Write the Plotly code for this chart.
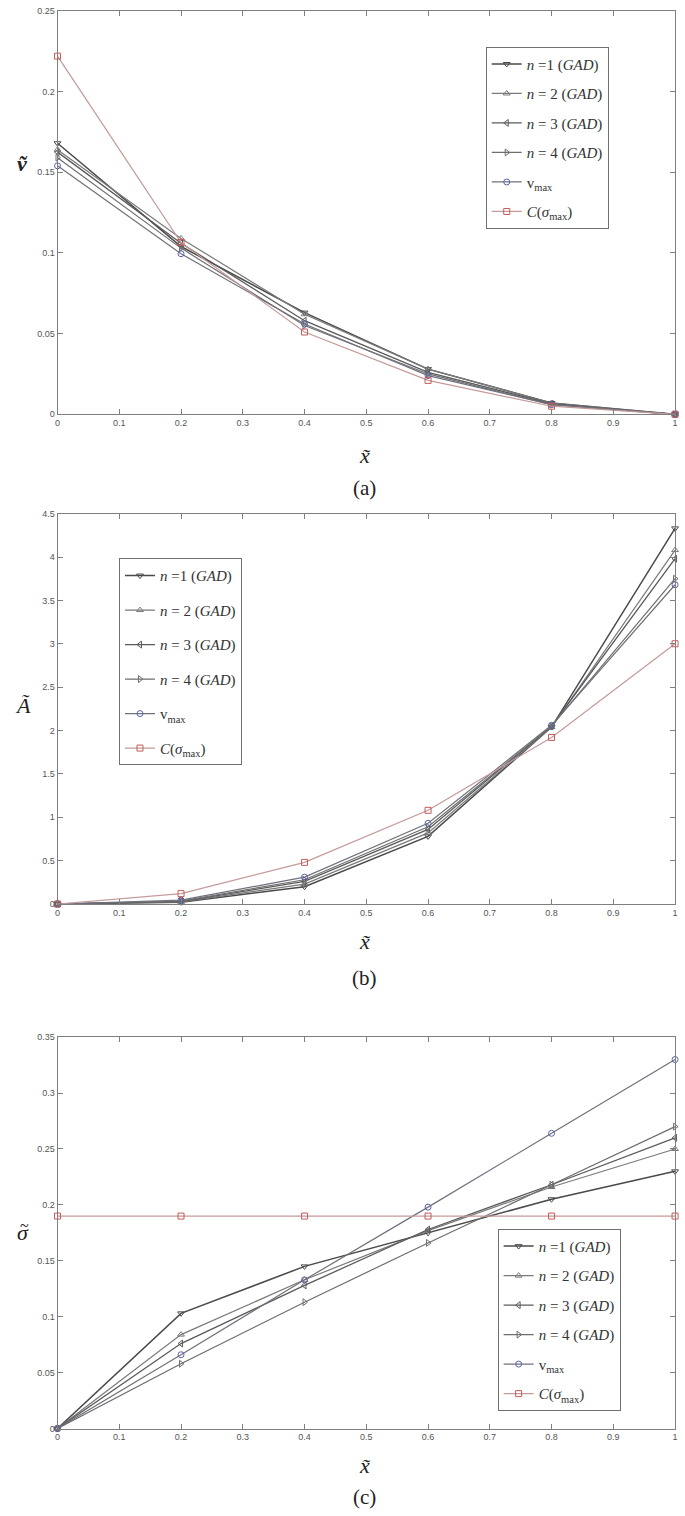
import plotly.graph_objects as go

# ---------------- data ----------------
x_vals = [0, 0.2, 0.4, 0.6, 0.8, 1.0]
x_ticks = [0, 0.1, 0.2, 0.3, 0.4, 0.5, 0.6, 0.7, 0.8, 0.9, 1]
x_tick_text = ["0", "0.1", "0.2", "0.3", "0.4", "0.5", "0.6", "0.7", "0.8", "0.9", "1"]
ya_ticks = [0, 0.05, 0.1, 0.15, 0.2, 0.25]
yb_ticks = [0, 0.5, 1, 1.5, 2, 2.5, 3, 3.5, 4, 4.5]
yc_ticks = [0, 0.05, 0.1, 0.15, 0.2, 0.25, 0.3, 0.35]

series_labels = [
    "<i>n</i> =1 (<i>GAD</i>)",
    "<i>n</i> = 2 (<i>GAD</i>)",
    "<i>n</i> = 3 (<i>GAD</i>)",
    "<i>n</i> = 4 (<i>GAD</i>)",
    "v<sub>max</sub>",
    "<i>C</i>(<i>σ</i><sub>max</sub>)",
]

# panel (a): v~
v_n1 = [0.168, 0.104, 0.063, 0.028, 0.007, 0.0]
v_n2 = [0.164, 0.109, 0.062, 0.028, 0.007, 0.0]
v_n3 = [0.1625, 0.106, 0.058, 0.026, 0.0065, 0.0]
v_n4 = [0.159, 0.103, 0.055, 0.025, 0.006, 0.0]
v_vmax = [0.154, 0.0995, 0.056, 0.024, 0.006, 0.0]
v_C = [0.222, 0.1065, 0.051, 0.021, 0.005, 0.0]

# panel (b): A~
A_n1 = [0, 0.02, 0.20, 0.78, 2.04, 4.33]
A_n2 = [0, 0.025, 0.23, 0.82, 2.04, 4.08]
A_n3 = [0, 0.03, 0.26, 0.86, 2.05, 3.98]
A_n4 = [0, 0.035, 0.28, 0.89, 2.05, 3.75]
A_vmax = [0, 0.045, 0.31, 0.93, 2.06, 3.68]
A_C = [0, 0.12, 0.48, 1.08, 1.92, 3.0]

# panel (c): sigma~
s_n1 = [0, 0.103, 0.145, 0.175, 0.205, 0.23]
s_n2 = [0, 0.084, 0.133, 0.177, 0.216, 0.25]
s_n3 = [0, 0.076, 0.128, 0.178, 0.218, 0.26]
s_n4 = [0, 0.058, 0.113, 0.166, 0.218, 0.27]
s_vmax = [0, 0.066, 0.133, 0.198, 0.264, 0.33]
s_C = [0.19, 0.19, 0.19, 0.19, 0.19, 0.19]

panels = [
    [v_n1, v_n2, v_n3, v_n4, v_vmax, v_C],
    [A_n1, A_n2, A_n3, A_n4, A_vmax, A_C],
    [s_n1, s_n2, s_n3, s_n4, s_vmax, s_C],
]
y_tick_sets = [ya_ticks, yb_ticks, yc_ticks]

# ---------------- styles ----------------
W, H = 685, 1516
symbols = ["triangle-down-open", "triangle-up-open", "triangle-left-open",
           "triangle-right-open", "circle-open", "square-open"]
line_colors = ["#4a4a4a", "#7a7a7a", "#5a5a5a", "#6e6e6e", "#70707e", "#c49a9a"]
marker_colors = ["#4a4a4a", "#7a7a7a", "#5a5a5a", "#6e6e6e", "#5a62a8", "#c85a5a"]
line_widths = [1.5, 1.2, 1.3, 1.2, 1.2, 1.2]

def py(px):
    return 1 - px / H

x_dom = [55 / W, 678 / W]
y_doms = [[py(412), py(6)], [py(905), py(512)], [py(1433), py(1039)]]
y_ranges = [[0, 0.25], [0, 4.5], [0, 0.35]]
legend_names = ["legend", "legend2", "legend3"]
legend_pos = [(487 / W, py(42), 7), (117 / W, py(557), 12), (499 / W, py(1232), 7)]

fig = go.Figure()

for p, data in enumerate(panels):
    xa = "x" if p == 0 else f"x{p+1}"
    ya = "y" if p == 0 else f"y{p+1}"
    for i, ys in enumerate(data):
        fig.add_trace(go.Scatter(
            x=x_vals, y=ys, mode="lines+markers", name=series_labels[i],
            xaxis=xa, yaxis=ya, legend=legend_names[p],
            legendgroup=f"p{p}s{i}", cliponaxis=False,
            line=dict(color=line_colors[i], width=line_widths[i]),
            marker=dict(symbol=symbols[i], size=6, color=marker_colors[i],
                        line=dict(width=1, color=marker_colors[i])),
        ))

axis_common = dict(
    showline=True, linecolor="#7f7f7f", linewidth=1, mirror="ticks",
    ticks="inside", ticklen=5, tickcolor="#7f7f7f", showgrid=False, zeroline=False,
    tickfont=dict(family="Liberation Sans", size=9, color="#555555"),
)

layout = dict(
    width=W, height=H, margin=dict(l=0, r=0, t=0, b=0),
    paper_bgcolor="white", plot_bgcolor="white", showlegend=True,
)
for p in range(3):
    xk = "xaxis" if p == 0 else f"xaxis{p+1}"
    yk = "yaxis" if p == 0 else f"yaxis{p+1}"
    ya = "y" if p == 0 else f"y{p+1}"
    xa = "x" if p == 0 else f"x{p+1}"
    layout[xk] = dict(axis_common, domain=x_dom, range=[0, 1],
                      tickmode="array", tickvals=x_ticks, ticktext=x_tick_text,
                      anchor=ya)
    yt = y_tick_sets[p]
    layout[yk] = dict(axis_common, domain=y_doms[p], range=y_ranges[p],
                      tickmode="array", tickvals=yt, ticktext=[f"{v:g}" for v in yt],
                      anchor=xa)
    lx, ly, gap = legend_pos[p]
    layout[legend_names[p]] = dict(
        x=lx, y=ly, xanchor="left", yanchor="top",
        bgcolor="white", bordercolor="#6f6f6f", borderwidth=1,
        font=dict(family="Liberation Serif", size=15, color="#333333"),
        tracegroupgap=gap, itemwidth=30,
    )

fig.update_layout(**layout)

serif = "Liberation Serif"
annots = []
# x axis titles and panel letters
for ypx_t, ypx_l, lab in [(453, 486, "(a)"), (943, 979, "(b)"), (1470, 1502, "(c)")]:
    annots.append(dict(x=365 / W, y=py(ypx_t), xref="paper", yref="paper",
                       xanchor="center", yanchor="middle",
                       text="<i>x̃</i>", showarrow=False,
                       font=dict(family=serif, size=22, color="#222222")))
    annots.append(dict(x=365 / W, y=py(ypx_l), xref="paper", yref="paper",
                       xanchor="center", yanchor="middle",
                       text=lab, showarrow=False,
                       font=dict(family=serif, size=21, color="#222222")))
# y axis titles
for ypx, txt in [(160, "<b><i>ṽ</i></b>"), (705, "<i>Ã</i>"), (1236, "<i>σ</i>")]:
    annots.append(dict(x=20 / W, y=py(ypx), xref="paper", yref="paper",
                       xanchor="center", yanchor="middle",
                       text=txt, showarrow=False,
                       font=dict(family=serif, size=22, color="#222222")))
# tilde over sigma
annots.append(dict(x=22 / W, y=py(1229), xref="paper", yref="paper",
                   xanchor="center", yanchor="middle",
                   text="~", showarrow=False,
                   font=dict(family=serif, size=16, color="#222222")))
fig.update_layout(annotations=annots)

fig.write_html(
    "out.html",
    config={"displayModeBar": False},
    post_script=(
        "document.body.style.margin='0px';"
        "document.body.style.overflow='hidden';"
        "document.documentElement.style.overflow='hidden';"
    ),
)
